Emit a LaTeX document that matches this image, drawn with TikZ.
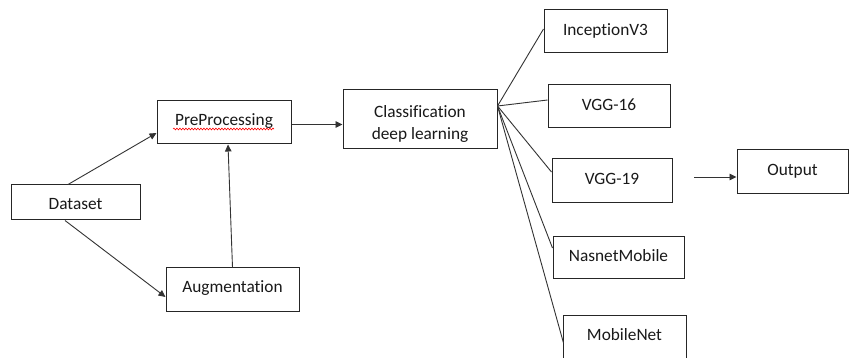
\documentclass[tikz,border=0pt]{standalone}
\usepackage{fontspec}
\setmainfont{Carlito}[Ligatures={NoCommon}]
\usetikzlibrary{arrows.meta,decorations.pathmorphing,calc}
\begin{document}
\begin{tikzpicture}[x=1pt,y=-1pt,
  font=\fontsize{17.3}{22}\selectfont,
  box/.style={draw=black!85, line width=1pt, inner xsep=0pt, inner ysep=0pt, anchor=base, text=black!90},
  conn/.style={draw=black!80, line width=0.9pt},
  arr/.style={conn, -{Triangle[length=7pt,width=6.5pt]}}]
\useasboundingbox (0,0) rectangle (849,358);
\fill[white] (0,0) rectangle (849,358);
% boxes (positions in px: x right, y down; node at baseline)
\node[box, minimum width=129, text height=24.5, text depth=10.5] (ds) at (75.5,209.5) {Dataset};
\node[box, minimum width=134, text height=25, text depth=18] (pp) at (224,126) {PreProcessing};
\node[box, minimum width=133, text height=24.5, text depth=18.5] (aug) at (232.5,292.5) {Augmentation};
\node[box, anchor=center, minimum width=154, minimum height=59,
      label={[yshift=-4pt, align=center, text=black!90]center:Classification\\deep learning}] (cls) at (420,119.5) {};
\node[box, minimum width=123, text height=26, text depth=17] (inc) at (605.5,36) {InceptionV3};
\node[box, minimum width=122, text height=25.5, text depth=17.5] (v16) at (609,110.5) {VGG-16};
\node[box, minimum width=120, text height=26, text depth=18] (v19) at (612,185) {VGG-19};
\node[box, minimum width=111, text height=26, text depth=18] (out) at (792.5,176) {Output};
\node[box, minimum width=131, text height=24.5, text depth=17.5] (nas) at (618.5,261.5) {NasnetMobile};
\node[box, minimum width=123, text height=25, text depth=22] (mob) at (624.5,340) {MobileNet};
% spell-check squiggle
\draw[red, line width=0.6pt, decorate, decoration={snake, amplitude=0.9pt, segment length=3pt}] (173,129) -- (274,129);
% connectors
\draw[arr] ([xshift=-7.5pt]ds.north) -- ([yshift=-10.5pt]pp.west);
\draw[arr] ([xshift=-10.5pt]ds.south) -- ([yshift=-7.5pt]aug.west);
\draw[arr] (aug.north) -- ([xshift=4pt]pp.south);
\draw[arr] ([yshift=-2pt]pp.east) -- ([yshift=-2pt]pp.east -| cls.west);
\coordinate (fan) at ([yshift=13.5pt]cls.east);
\draw[conn] (fan) -- ([yshift=2.5pt]inc.west);
\draw[conn] (fan) -- ([yshift=6.5pt]v16.west);
\draw[conn] (fan) -- ([yshift=9pt]v19.west);
\draw[conn] (fan) -- ([yshift=10pt]nas.west);
\draw[conn] (fan) -- ([yshift=-4.5pt,xshift=1pt]mob.west);
\coordinate (o1) at (694,177);
\draw[arr] (o1) -- (o1 -| out.west);
\end{tikzpicture}
\end{document}
